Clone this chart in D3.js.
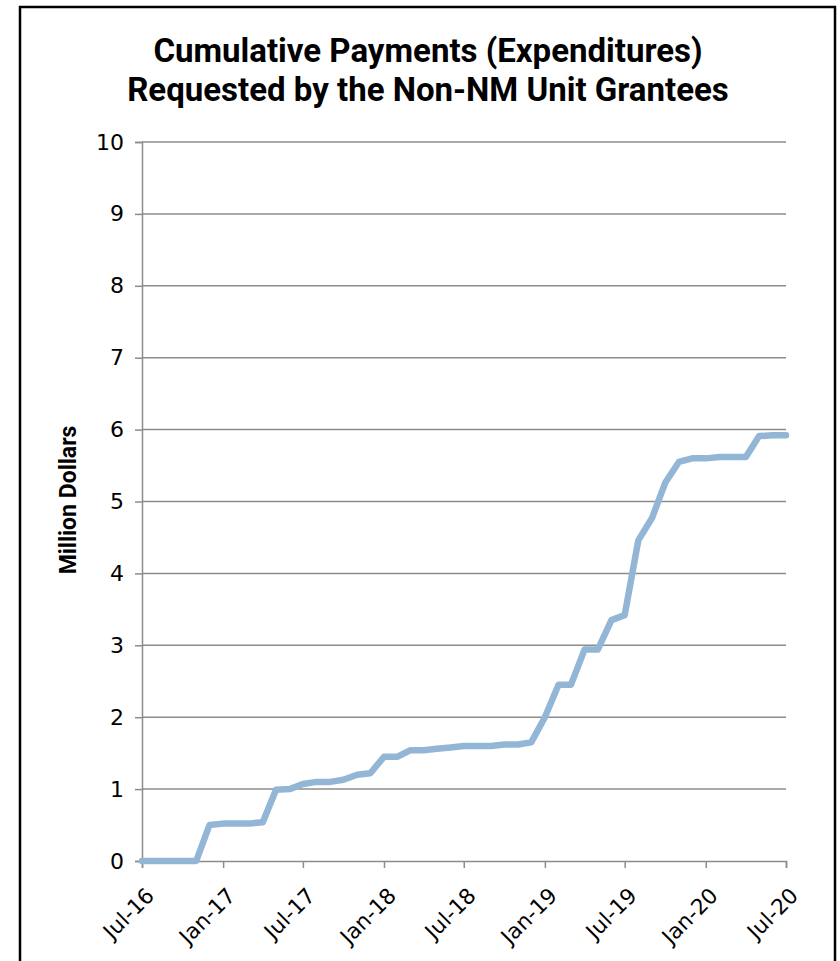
<!DOCTYPE html>
<html>
<head>
<meta charset="utf-8">
<script src="https://cdn.jsdelivr.net/npm/d3@7"></script>
<style>
  body { margin: 0; background: #fff; }
  svg { display: block; }
</style>
</head>
<body>
<div id="chart"></div>
<script>
// monthly cumulative payments, Jul-16 .. Jul-20
var months = [
  "2016-07","2016-08","2016-09","2016-10","2016-11","2016-12",
  "2017-01","2017-02","2017-03","2017-04","2017-05","2017-06",
  "2017-07","2017-08","2017-09","2017-10","2017-11","2017-12",
  "2018-01","2018-02","2018-03","2018-04","2018-05","2018-06",
  "2018-07","2018-08","2018-09","2018-10","2018-11","2018-12",
  "2019-01","2019-02","2019-03","2019-04","2019-05","2019-06",
  "2019-07","2019-08","2019-09","2019-10","2019-11","2019-12",
  "2020-01","2020-02","2020-03","2020-04","2020-05","2020-06",
  "2020-07"
];
var payments = [
  0, 0, 0, 0, 0, 0.50,
  0.52, 0.52, 0.52, 0.54, 0.99, 1.00,
  1.07, 1.10, 1.10, 1.13, 1.20, 1.22,
  1.45, 1.45, 1.54, 1.54, 1.56, 1.58,
  1.60, 1.60, 1.60, 1.62, 1.62, 1.65,
  2.00, 2.45, 2.45, 2.94, 2.94, 3.35,
  3.42, 4.46, 4.77, 5.26, 5.55, 5.60,
  5.60, 5.62, 5.62, 5.62, 5.91, 5.92,
  5.92
];
var tickDates = ["2016-07","2017-01","2017-07","2018-01","2018-07","2019-01","2019-07","2020-01","2020-07"];
var yTicks = [0,1,2,3,4,5,6,7,8,9,10];

var titleLines = ["Cumulative Payments (Expenditures)", "Requested by the Non-NM Unit Grantees"];
var yTitle = "Million Dollars";

var width = 840, height = 961;
var margin = {top: 142, left: 142, right: 54, bottom: 100};
var parse = d3.timeParse("%Y-%m");
var fmt = d3.timeFormat("%b-%y");

var data = months.map(function(m, i) { return {date: parse(m), value: payments[i]}; });

var svg = d3.select("#chart").append("svg")
  .attr("width", width)
  .attr("height", height);

// outer frame
svg.append("rect")
  .attr("x", 20).attr("y", 7)
  .attr("width", 815).attr("height", 970)
  .attr("fill", "none")
  .attr("stroke", "#000")
  .attr("stroke-width", 2.5);

var x = d3.scaleTime()
  .domain([parse("2016-07"), parse("2020-07")])
  .range([margin.left, 786]);

var y = d3.scaleLinear()
  .domain([0, 10])
  .range([861, margin.top]);

var font = "'DejaVu Sans', sans-serif";

// gridlines
svg.append("g")
  .selectAll("line")
  .data(yTicks.filter(function(d) { return d > 0; }))
  .enter().append("line")
  .attr("x1", x.range()[0]).attr("x2", x.range()[1])
  .attr("y1", function(d) { return y(d); })
  .attr("y2", function(d) { return y(d); })
  .attr("stroke", "#8c8c8c")
  .attr("stroke-width", 1.5);

// y axis
var yAxis = svg.append("g")
  .attr("transform", "translate(" + margin.left + ",0)")
  .call(d3.axisLeft(y).tickValues(yTicks).tickSize(7).tickPadding(11).tickFormat(d3.format("d")));
yAxis.select(".domain").attr("stroke", "#8c8c8c").attr("stroke-width", 1.5);
yAxis.selectAll(".tick line").attr("stroke", "#8c8c8c").attr("stroke-width", 1.5);
yAxis.selectAll("text")
  .attr("font-family", font)
  .attr("font-size", 22)
  .attr("fill", "#000");

// x axis
var xAxis = svg.append("g")
  .attr("transform", "translate(0," + y(0) + ")")
  .call(d3.axisBottom(x).tickValues(tickDates.map(parse)).tickSize(7).tickFormat(fmt));
xAxis.select(".domain").attr("stroke", "#8c8c8c").attr("stroke-width", 1.5);
xAxis.selectAll(".tick line").attr("stroke", "#8c8c8c").attr("stroke-width", 1.5);
xAxis.selectAll("text")
  .attr("font-family", font)
  .attr("font-size", 21.5)
  .attr("fill", "#000")
  .attr("text-anchor", "end")
  .attr("dy", null)
  .attr("y", 0)
  .attr("transform", "translate(13,36) rotate(-45)");

// the line
var line = d3.line()
  .x(function(d) { return x(d.date); })
  .y(function(d) { return y(d.value); });

svg.append("path")
  .datum(data)
  .attr("d", line)
  .attr("fill", "none")
  .attr("stroke", "#93b6d7")
  .attr("stroke-width", 6.5)
  .attr("stroke-linejoin", "round")
  .attr("stroke-linecap", "round");

// title
svg.append("g")
  .selectAll("text")
  .data(titleLines)
  .enter().append("text")
  .attr("x", 428)
  .attr("y", function(d, i) { return 62 + i * 39; })
  .attr("text-anchor", "middle")
  .attr("font-family", "Roboto, sans-serif")
  .attr("font-weight", "bold")
  .attr("font-size", 33)
  .text(function(d) { return d; });

// y axis title
svg.append("text")
  .attr("transform", "translate(76,500) rotate(-90)")
  .attr("text-anchor", "middle")
  .attr("font-family", "Roboto, sans-serif")
  .attr("font-weight", "bold")
  .attr("font-size", 23)
  .text(yTitle);
</script>
</body>
</html>
